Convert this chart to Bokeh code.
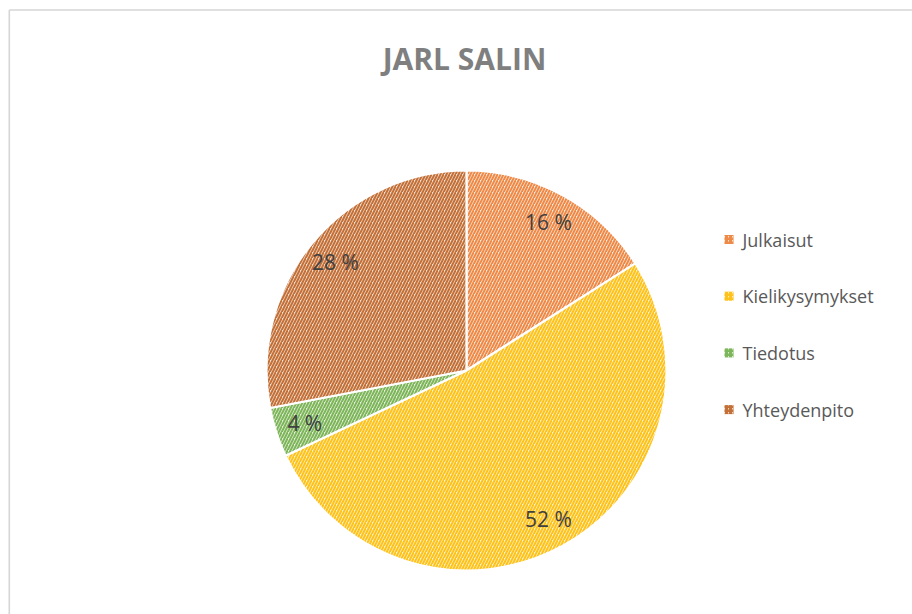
import math
from bokeh.plotting import figure
from bokeh.models import Range1d, ColumnDataSource
from bokeh.core.properties import value
from bokeh.embed import file_html
from bokeh.resources import INLINE

# ---- data ----
title_text = "JARL SALIN"
categories = ["Julkaisut", "Kielikysymykset", "Tiedotus", "Yhteydenpito"]
shares = [16, 52, 4, 28]
hatch_colors = ["#EE8A48", "#FFC21A", "#7DB55A", "#C27038"]
fill_tints = ["#FDE8DA", "#FFF3CC", "#E3F0DA", "#F3DDCE"]

# ---- layout (page pixel units) ----
W, H = 912, 614
p = figure(width=W, height=H, output_backend="svg", toolbar_location=None,
           x_range=Range1d(0, W), y_range=Range1d(0, H), min_border=0)
p.axis.visible = False
p.grid.visible = False
p.outline_line_color = None
p.background_fill_color = "white"
p.border_fill_color = "white"

# chart-area border (left and top edges visible)
p.segment(x0=[8.8, 8.8], y0=[-10, H - 9.5], x1=[8.8, W + 10], y1=[H - 9.5, H - 9.5],
          line_color="#D6D6D6", line_width=1.6)

cx, cy, r = 466, H - 370, 200
total = float(sum(shares))
starts, ends, mids = [], [], []
cum = 0.0
for s in shares:
    a0 = math.pi / 2 - 2 * math.pi * cum / total
    cum += s
    a1 = math.pi / 2 - 2 * math.pi * cum / total
    starts.append(a0)
    ends.append(a1)
    mids.append((a0 + a1) / 2)

src = ColumnDataSource(dict(start=starts, end=ends, fill=fill_tints, hatch=hatch_colors,
                            cat=categories))
p.wedge(x=cx, y=cy, radius=r, start_angle="start", end_angle="end", direction="clock",
        fill_color="fill", hatch_color="hatch", hatch_pattern="/", hatch_scale=6,
        hatch_weight=2, line_color="white", line_width=2.2, source=src)

# data labels
lab_r = 0.85 * r
lab_src = ColumnDataSource(dict(
    x=[cx + lab_r * math.cos(m) for m in mids],
    y=[cy + lab_r * math.sin(m) for m in mids],
    t=[f"{s} %" for s in shares]))
p.text(x="x", y="y", text="t", source=lab_src, text_align="center",
       text_baseline="middle", text_font=value("Open Sans"), text_font_size="21px",
       text_color="#404040")

# title
p.text(x=[464], y=[H - 58], text=[title_text], text_align="center",
       text_baseline="alphabetic", text_font=value("Open Sans"), text_font_size="30px",
       text_font_style="bold", text_color="#7F7F7F")

# legend
leg_x, leg_y0, pitch = 728.5, H - 239, 56.7
leg_src = ColumnDataSource(dict(
    x=[leg_x] * len(categories),
    y=[leg_y0 - i * pitch for i in range(len(categories))],
    tx=[leg_x + 13.5] * len(categories),
    fill=fill_tints, hatch=hatch_colors, cat=categories))
p.rect(x="x", y="y", width=9, height=9, source=leg_src, fill_color="fill",
       hatch_color="hatch", hatch_pattern="/", hatch_scale=4, hatch_weight=1.8,
       line_color=None)
p.text(x="tx", y="y", text="cat", source=leg_src, text_align="left",
       text_baseline="middle", text_font=value("Open Sans"), text_font_size="18px",
       text_color="#595959")

open("out.html", "w").write(file_html(p, INLINE))
